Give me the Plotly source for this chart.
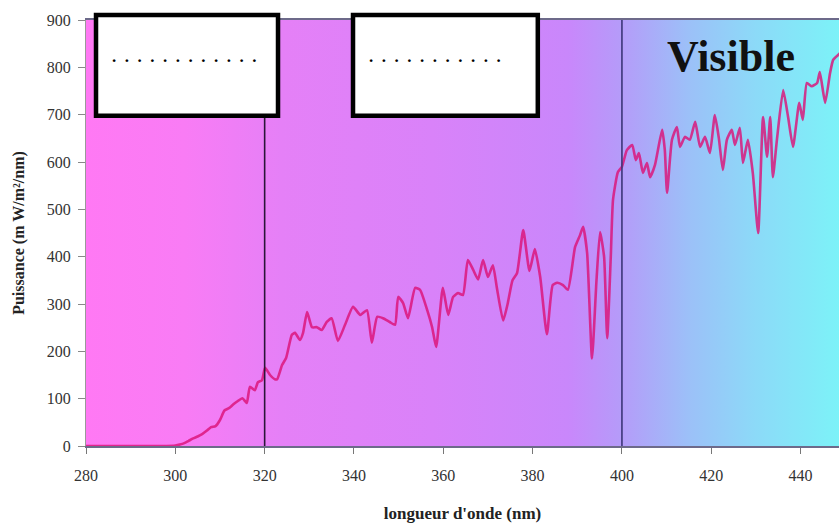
import plotly.graph_objects as go

# ---------------- data ----------------
wavelength_nm = [280, 285, 290, 295, 298, 300, 301, 302, 303, 304, 305, 306, 307, 308, 309,
                 310, 311, 312, 313, 314, 315, 316, 316.7, 317.8, 318.5, 319.4, 320.1, 321.2,
                 322.3, 322.8, 323.9, 324.8, 326.1, 326.8, 327.9, 328.6, 329.5, 330.6, 331.7,
                 332.8, 333.9, 335, 336.4, 338, 339.8, 341.4, 342.9, 344, 345.2, 346.5, 348,
                 349.2, 349.9, 351, 352.1, 353.7, 354.8, 356.4, 357.5, 358.4, 359.9, 361.1,
                 362.2, 363.3, 364.4, 365.5, 366.7, 367.8, 368.9, 370, 371.1, 372, 373.4,
                 374.4, 375.5, 376.5, 377.9, 379.3, 380.5, 381.7, 383.2, 384.5, 385.5, 386.8,
                 387.9, 389.5, 390.6, 391.3, 392.2, 393.3, 394.3, 395.1, 396, 396.7, 397.5,
                 398, 399.1, 400, 401.1, 402.3, 403.1, 403.8, 404.7, 405.6, 406.3, 407.4,
                 409, 409.6, 410.1, 411.2, 412.3, 413, 414.1, 415.2, 416.4, 417.5, 418.6,
                 419.7, 420.8, 421.7, 422.6, 423.5, 424.6, 425.3, 426.4, 427.1, 428.2, 429.3,
                 430.5, 431.6, 432.5, 433.2, 433.8, 434.7, 436.1, 437.2, 438.3, 439.7, 440.5,
                 441.4, 442.5, 443.7, 444.3, 445.5, 446.6, 447.3, 448.4, 449.5, 451]
power_mw = [0, 0, 0, 0, 0, 1, 3, 6, 11, 16, 20, 25, 32, 40, 42,
            55, 75, 80, 88, 95, 101, 91, 125, 118, 135, 139, 165, 150,
            141, 141, 171, 186, 235, 239, 224, 239, 283, 251, 251,
            245, 262, 270, 222, 256, 294, 277, 287, 218, 273, 270, 262,
            256, 315, 302, 270, 334, 330, 287, 251, 209, 334, 277,
            315, 323, 319, 393, 372, 352, 393, 357, 382, 334, 265,
            300, 350, 365, 456, 370, 416, 357, 236, 340, 345, 340,
            330, 420, 445, 463, 408, 185, 350, 452, 400, 228, 400,
            520, 579, 590, 625, 636, 604, 619, 577, 598, 568, 594,
            668, 625, 535, 647, 674, 632, 653, 647, 685, 632, 653,
            619, 699, 650, 583, 647, 668, 636, 672, 598, 647, 577,
            450, 695, 611, 695, 568, 647, 752, 695, 632, 725, 689,
            767, 760, 767, 790, 725, 788, 816, 826, 835, 820]

x_ticks = [280, 300, 320, 340, 360, 380, 400, 420, 440]
y_ticks = [0, 100, 200, 300, 400, 500, 600, 700, 800, 900]
boundaries_nm = [320, 400]
box_texts = ["\u00a0\u00a0".join(["."] * 12), "\u00a0\u00a0".join(["."] * 11)]
visible_label = "Visible"

# ---------------- style ----------------
X_RANGE = [280, 448.6]
Y_RANGE = [0, 900]
SERIF = "Liberation Serif, Times New Roman, serif"
bg_scale = [[0.00, "#FF79F4"], [0.13, "#F97CF5"], [0.26, "#E580F7"],
            [0.46, "#D982F9"], [0.64, "#C987FB"], [0.71, "#B59BF9"],
            [0.80, "#9CC0F8"], [0.89, "#8CDAF8"], [1.00, "#7CF2F8"]]

fig = go.Figure()

# background gradient panel
fig.add_trace(go.Scatter(
    x=[X_RANGE[0], X_RANGE[1], X_RANGE[1], X_RANGE[0], X_RANGE[0]],
    y=[Y_RANGE[0], Y_RANGE[0], Y_RANGE[1], Y_RANGE[1], Y_RANGE[0]],
    mode="none", fill="toself",
    fillgradient=dict(type="horizontal", colorscale=bg_scale,
                      start=X_RANGE[0], stop=X_RANGE[1]),
    hoverinfo="skip", showlegend=False))

# spectrum
fig.add_trace(go.Scatter(
    x=wavelength_nm, y=power_mw, mode="lines",
    line=dict(color="rgba(220,18,120,0.82)", width=2.6, shape="spline", smoothing=0.5),
    showlegend=False))

shapes = []
line_cols = ["#2a1538", "#3c3578"]
for b, c in zip(boundaries_nm, line_cols):
    shapes.append(dict(type="line", xref="x", yref="y", x0=b, x1=b,
                       y0=Y_RANGE[0], y1=Y_RANGE[1], line=dict(color=c, width=1.6)))

box_x = [(0.0133, 0.2550), (0.3546, 0.6000)]
for (bx0, bx1) in box_x:
    shapes.append(dict(type="rect", xref="paper", yref="paper",
                       x0=bx0, x1=bx1, y0=0.775, y1=1.012,
                       fillcolor="white", line=dict(color="black", width=4.5)))

annotations = []
for (bx0, bx1), t in zip(box_x, box_texts):
    annotations.append(dict(xref="paper", yref="paper", x=bx0 + 0.019, y=0.915,
                            xanchor="left", yanchor="middle", text="<b>%s</b>" % t,
                            showarrow=False,
                            font=dict(family=SERIF, size=17, color="black")))
annotations.append(dict(xref="paper", yref="paper", x=0.8566, y=0.915,
                        xanchor="center", yanchor="middle", text="<b>%s</b>" % visible_label,
                        showarrow=False, font=dict(family=SERIF, size=44, color="#111111")))

fig.update_layout(
    width=839, height=527,
    margin=dict(l=86, r=0, t=20, b=81),
    paper_bgcolor="white", plot_bgcolor="white",
    shapes=shapes, annotations=annotations,
    xaxis=dict(range=X_RANGE, tickvals=x_ticks, ticks="outside", ticklen=6,
               tickcolor="#777", showline=True, linecolor="#6d6a8a", linewidth=1.5,
               mirror=True, showgrid=False, zeroline=False, ticklabelstandoff=8,
               automargin=False,
               tickfont=dict(family=SERIF, size=16, color="#333"),
               title=dict(text="<b>longueur d'onde (nm)</b>", standoff=24,
                          font=dict(family=SERIF, size=17, color="#222"))),
    yaxis=dict(range=Y_RANGE, tickvals=y_ticks, ticks="outside", ticklen=7,
               tickcolor="#888", showline=True, linecolor="#999", linewidth=1.2,
               showgrid=False, zeroline=False, ticklabelstandoff=4,
               automargin=False,
               tickfont=dict(family=SERIF, size=16, color="#333"),
               title=dict(text="<b>Puissance (m W/m²/nm)</b>", standoff=18,
                          font=dict(family=SERIF, size=16, color="#222"))),
)

fig.write_html("out.html",
               config={"displayModeBar": False},
               post_script="document.body.style.margin='0';"
                           "document.body.style.overflow='hidden';")
